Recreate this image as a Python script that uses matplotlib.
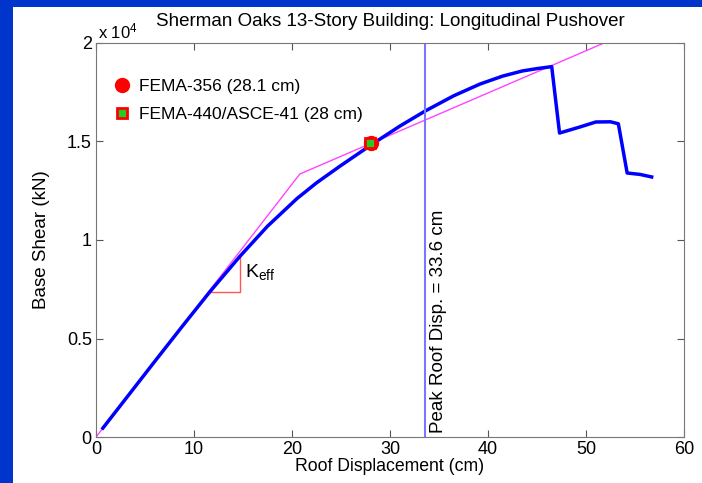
import matplotlib.pyplot as plt
from matplotlib.patches import Rectangle
import numpy as np

plt.rcParams['font.family'] = ['Liberation Sans', 'DejaVu Sans']
plt.rcParams['mathtext.fontset'] = 'custom'
plt.rcParams['mathtext.rm'] = 'Liberation Sans'
plt.rcParams['mathtext.it'] = 'Liberation Sans'

# pushover curve (roof displacement cm, base shear kN)
disp = [0.7, 3, 6, 9, 11.6, 14.7, 17.5, 20.5, 22.5, 24.9, 28.2, 31, 33.6, 36.5, 39.2,
        41.5, 43.5, 45, 46.5, 47.3, 49.4, 51, 52.5, 53.3, 54.2, 55.5, 56.7]
shear = [450, 1920, 3840, 5740, 7360, 9180, 10700, 12100, 12900, 13750, 14870, 15780,
         16550, 17320, 17920, 18320, 18580, 18700, 18800, 15430, 15740, 15990, 16000,
         15900, 13400, 13330, 13200]

# bilinear idealization
bil_x = [0, 20.8, 60]
bil_y = [0, 13350, 21750]

# Keff triangle
keff_x = [11.6, 14.7, 14.7]
keff_y = [7360, 7360, 9200]

peak_disp = 33.6
fema356 = (28.1, 14900)
fema440 = (28.0, 14900)

fig = plt.figure(figsize=(7.02, 4.83), dpi=100, facecolor='#0035cc')
fig.patches.append(Rectangle((13 / 702, 0), 1, 1 - 7 / 483, transform=fig.transFigure,
                             facecolor='white', edgecolor='none', zorder=-10))
ax = fig.add_axes([96 / 702, 46 / 483, 588 / 702, 394 / 483])

ax.plot(bil_x, bil_y, color='#ff44ff', lw=1)
ax.plot(keff_x, keff_y, color='#ff5555', lw=1)
ax.plot(disp, shear, color='#0000ff', lw=2.5)
ax.axvline(peak_disp, color='#7777ff', lw=1.5)
ax.text(peak_disp + 0.45, 200, 'Peak Roof Disp. = 33.6 cm', rotation=90, fontsize=13.5,
        ha='left', va='bottom')
ax.text(15.2, 8100, r'K$_{\mathrm{eff}}$', fontsize=14, va='baseline')

ax.plot(*fema356, 'o', color='red', ms=10, label='FEMA-356 (28.1 cm)')
ax.plot(*fema440, 's', mfc='#22cc22', mec='red', mew=2, ms=7,
        label='FEMA-440/ASCE-41 (28 cm)')
ax.legend(loc='upper left', frameon=False, fontsize=12.5, handletextpad=0.15,
          handlelength=1.6, bbox_to_anchor=(0.0, 0.94), borderaxespad=0.3,
          labelspacing=0.75)

ax.set_xlim(0, 60)
ax.set_ylim(0, 20000)
ax.set_xticks(np.arange(0, 61, 10))
ax.set_yticks([0, 5000, 10000, 15000, 20000])
ax.set_yticklabels(['0', '0.5', '1', '1.5', '2'])
ax.tick_params(direction='in', top=True, right=True, labelsize=13, length=5, colors='#555555',
               labelcolor='black', pad=3)
for s in ax.spines.values():
    s.set_color('#777777')
ax.text(0.003, 1.005, r'x 10$^4$', transform=ax.transAxes, fontsize=12, ha='left', va='bottom')
ax.set_title('Sherman Oaks 13-Story Building: Longitudinal Pushover', fontsize=13.5, pad=12)
ax.set_xlabel('Roof Displacement (cm)', fontsize=12.7, labelpad=0)
ax.set_ylabel('Base Shear (kN)', fontsize=13.5, labelpad=12)

fig.savefig('out.png', dpi=100, facecolor=fig.get_facecolor())
